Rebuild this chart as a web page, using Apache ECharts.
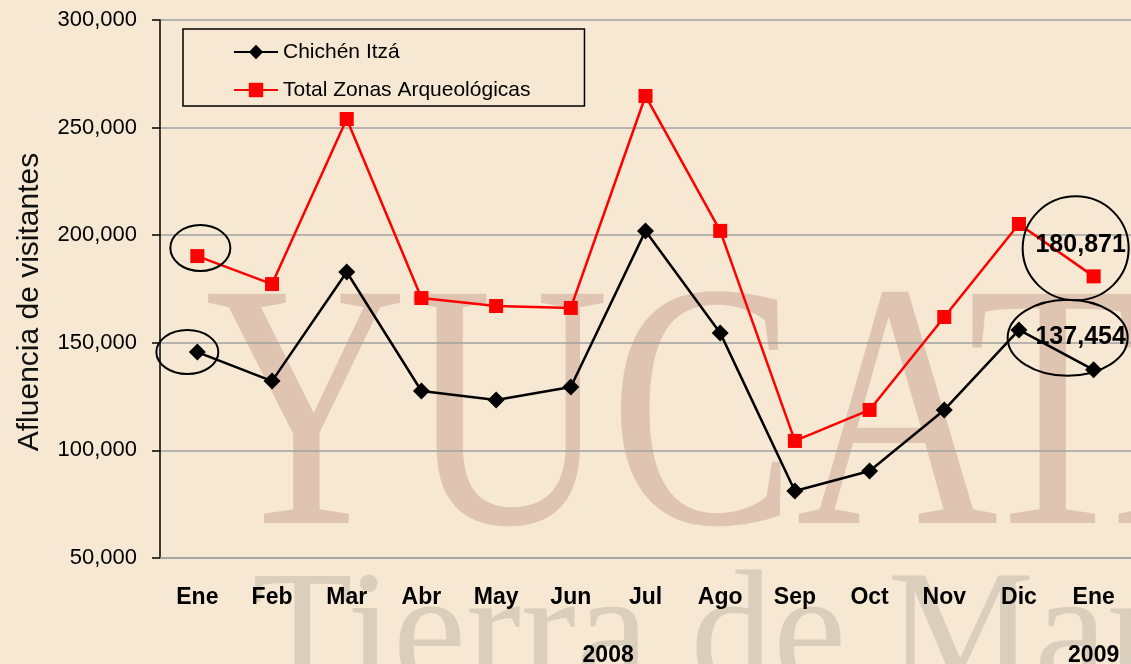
<!DOCTYPE html>
<html>
<head>
<meta charset="utf-8">
<script src="https://cdn.jsdelivr.net/npm/echarts@6/dist/echarts.min.js"></script>
<style>
  html, body { margin: 0; padding: 0; background: #f6e8d2; }
  #chart { width: 1131px; height: 664px; }
</style>
</head>
<body>
<div id="chart"></div>
<script>
  // meses (ene 2008 - ene 2009)
  var months = ['Ene', 'Feb', 'Mar', 'Abr', 'May', 'Jun', 'Jul', 'Ago', 'Sep', 'Oct', 'Nov', 'Dic', 'Ene'];
  var chichen = [145700, 132200, 182900, 127600, 123400, 129500, 202000, 154600, 81100, 90400, 118800, 156000, 137454];
  var totalZonas = [190300, 177300, 254000, 170800, 167100, 166200, 264700, 202000, 104400, 118800, 162000, 205200, 180871];
  var yearLabels = ['2008', '2009'];
  var yearAt = [5.5, 12];
  var yTicks = [50000, 300000, 50000]; // min, max, interval

  var font = '"Liberation Sans", Arial, sans-serif';
  var serif = '"Liberation Serif", "DejaVu Serif", serif';
  var fmt = function (v) { return Number(v).toLocaleString('en-US'); };

  // la ultima etiqueta lleva el valor
  function withLastLabel(arr) {
    return arr.map(function (v, i) {
      if (i !== arr.length - 1) return v;
      return {
        value: v,
        label: {
          show: true, position: 'top', offset: [-13, -7],
          formatter: function (p) { return fmt(p.value); },
          fontFamily: font, fontWeight: 'bold', fontSize: 25, color: '#000'
        }
      };
    });
  }

  var chart = echarts.init(document.getElementById('chart'));

  chart.setOption({
    backgroundColor: '#f6e8d2',
    animation: false,
    grid: { left: 160, top: 20, right: -4, bottom: 106 },
    legend: {
      orient: 'vertical',
      left: 183, top: 29,
      padding: [11, 54, 4, 50],
      itemGap: 14,
      itemWidth: 44, itemHeight: 18,
      borderColor: '#000', borderWidth: 1.5,
      textStyle: { fontFamily: font, fontSize: 21, lineHeight: 24, color: '#000' },
      data: ['Chichén Itzá', 'Total Zonas Arqueológicas']
    },
    xAxis: {
      type: 'category',
      data: months,
      boundaryGap: true,
      axisLine: { lineStyle: { color: '#a0a0a0', width: 1.5 } },
      axisTick: { show: false },
      axisLabel: { margin: 28, fontFamily: font, fontWeight: 'bold', fontSize: 23, color: '#000' }
    },
    yAxis: {
      type: 'value',
      min: yTicks[0], max: yTicks[1], interval: yTicks[2],
      name: 'Afluencia de visitantes',
      nameLocation: 'middle',
      nameGap: 115,
      nameTextStyle: { fontFamily: font, fontSize: 30, color: '#111', padding: [0, 26, 0, 0] },
      axisLine: { show: true, lineStyle: { color: '#000', width: 1.5 } },
      axisTick: { show: true, inside: false, length: 8, lineStyle: { color: '#000', width: 1.5 } },
      axisLabel: { margin: 23, fontFamily: font, fontSize: 22, color: '#000', formatter: fmt },
      splitLine: { lineStyle: { color: '#a0a0a0', width: 1.5 } }
    },
    series: [
      {
        name: 'Chichén Itzá',
        type: 'line',
        data: withLastLabel(chichen),
        symbol: 'diamond', symbolSize: 17,
        itemStyle: { color: '#000' },
        lineStyle: { color: '#000', width: 2.5 },
        z: 3
      },
      {
        name: 'Total Zonas Arqueológicas',
        type: 'line',
        data: withLastLabel(totalZonas),
        symbol: 'rect', symbolSize: 14,
        itemStyle: { color: '#ff0000' },
        lineStyle: { color: '#ff0000', width: 2.5 },
        z: 2
      }
    ]
  });

  // marca de agua, elipses y años
  function px(seriesIndex, idx, val) {
    return chart.convertToPixel({ seriesIndex: seriesIndex }, [idx, val]);
  }
  var n = months.length - 1;
  var ellipses = [
    { at: px(1, 0, totalZonas[0]), dx: 3, dy: -8, rx: 30, ry: 23 },
    { at: px(0, 0, chichen[0]), dx: -10, dy: 0, rx: 31, ry: 22 },
    { at: px(1, n, totalZonas[n]), dx: -18, dy: -28, rx: 53, ry: 52 },
    { at: px(0, n, chichen[n]), dx: -26, dy: -32, rx: 60, ry: 38 }
  ];
  var graphics = [
    {
      type: 'text', x: 205, y: 256, scaleX: 0.8, z: -10, silent: true,
      style: { text: 'YUCATAN', fontFamily: serif, fontSize: 350, fill: 'rgba(150,85,75,0.24)' }
    },
    {
      type: 'text', x: 252, y: 558, z: -10, silent: true,
      style: { text: 'Tierra de Mar', fontFamily: serif, fontSize: 165, fill: 'rgba(110,105,100,0.2)' }
    }
  ];
  ellipses.forEach(function (e) {
    graphics.push({
      type: 'ellipse', z: 10, silent: true,
      shape: { cx: e.at[0] + e.dx, cy: e.at[1] + e.dy, rx: e.rx, ry: e.ry },
      style: { fill: 'none', stroke: '#000', lineWidth: 2 }
    });
  });
  yearLabels.forEach(function (t, i) {
    var x = chart.convertToPixel({ xAxisIndex: 0 }, Math.floor(yearAt[i]));
    if (yearAt[i] % 1) x = (x + chart.convertToPixel({ xAxisIndex: 0 }, Math.ceil(yearAt[i]))) / 2;
    graphics.push({
      type: 'text', x: x, y: 656, z: 10,
      style: { text: t, fontFamily: font, fontWeight: 'bold', fontSize: 23, fill: '#000', align: 'center', verticalAlign: 'middle' }
    });
  });
  chart.setOption({ graphic: graphics });
</script>
</body>
</html>
